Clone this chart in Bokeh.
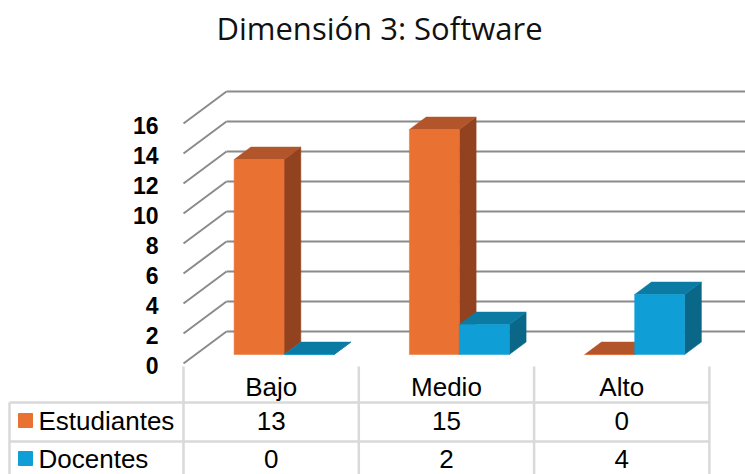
from bokeh.plotting import figure
from bokeh.models import Range1d
from bokeh.embed import file_html
from bokeh.resources import INLINE
from bokeh.core.properties import value

# ---------------- data ----------------
title_text = "Dimensión 3: Software"
categories = ["Bajo", "Medio", "Alto"]
series_names = ["Estudiantes", "Docentes"]
estudiantes = [13, 15, 0]
docentes = [0, 2, 4]
y_ticks = [0, 2, 4, 6, 8, 10, 12, 14, 16]

# ---------------- style / geometry ----------------
W, H = 745, 474
PX_X = 175.3        # px per category
PX_Y = 15.0         # px per unit value
X0_PX = 183.0       # px of front-left floor corner
Y0_PX = 363.0       # px of front baseline

DX = 43 / PX_X      # wall depth (x, data units)
DY = 32 / PX_Y      # wall depth (y, data units)
F0 = 0.28           # bar front depth fraction
FB = 0.39           # bar depth fraction
BAR_W = 0.285
BAR_C = 0.505

front_cols = ["#E97132", "#0F9ED5"]
top_cols = ["#B3552A", "#0B7BA4"]
side_cols = ["#934220", "#0A6787"]
grid_col = "#8a8a8a"
table_col = "#d9d9d9"


def px2x(px):
    return (px - X0_PX) / PX_X


def px2y(py):
    return (Y0_PX - py) / PX_Y


x_range = Range1d(px2x(0), px2x(W))
y_range = Range1d(px2y(H), px2y(0))

p = figure(width=W, height=H, x_range=x_range, y_range=y_range,
           output_backend="svg", toolbar_location=None,
           min_border_left=0, min_border_right=0, min_border_bottom=0,
           min_border_top=0)
p.axis.visible = False
p.grid.visible = False
p.outline_line_color = None
p.background_fill_color = "white"
p.border_fill_color = "white"

# title
p.text(x=[px2x(379)], y=[px2y(27)], text=[title_text], text_align="center",
       text_baseline="alphabetic", text_font=value("Open Sans"),
       text_font_size="31px", text_color="#111111")

# ---------------- 3D walls ----------------
xmax = x_range.end
p.segment(x0=[DX] * len(y_ticks), y0=[v + DY for v in y_ticks],
          x1=[xmax] * len(y_ticks), y1=[v + DY for v in y_ticks],
          line_color=grid_col, line_width=2)
p.segment(x0=[0] * len(y_ticks), y0=y_ticks,
          x1=[DX] * len(y_ticks), y1=[v + DY for v in y_ticks],
          line_color=grid_col, line_width=2)

# tick labels
p.text(x=[0] * len(y_ticks), y=y_ticks, text=[str(t) for t in y_ticks],
       x_offset=-25, y_offset=2, text_align="right", text_baseline="middle",
       text_font=value("Liberation Sans"), text_font_style="bold",
       text_font_size="23px", text_color="#000000")

# ---------------- bars ----------------
bdx, bdy = FB * DX, FB * DY
sx, sy = F0 * DX, F0 * DY
for j, vals in enumerate([estudiantes, docentes]):
    lefts, rights, tops = [], [], []
    top_xs, top_ys, side_xs, side_ys = [], [], [], []
    for i, v in enumerate(vals):
        xl = i + BAR_C - BAR_W + j * BAR_W + sx
        xr = xl + BAR_W
        b = sy
        t = v + sy
        lefts.append(xl)
        rights.append(xr)
        tops.append(t)
        top_xs.append([xl, xr, xr + bdx, xl + bdx])
        top_ys.append([t, t, t + bdy, t + bdy])
        side_xs.append([xr, xr + bdx, xr + bdx, xr])
        side_ys.append([b, b + bdy, t + bdy, t])
    p.patches(side_xs, side_ys, fill_color=side_cols[j], line_color=side_cols[j], line_width=0.5)
    p.patches(top_xs, top_ys, fill_color=top_cols[j], line_color=top_cols[j], line_width=0.5)
    p.quad(left=lefts, right=rights, bottom=[sy] * len(vals), top=tops,
           fill_color=front_cols[j], line_color=front_cols[j], line_width=0.5)

# ---------------- data table ----------------
hdr_top = px2y(366)
row1_top = px2y(402)
row2_top = px2y(441)
ybot = y_range.start
tbl_left = px2x(9)
ncat = len(categories)

p.segment(x0=[tbl_left, tbl_left], y0=[row1_top, row2_top],
          x1=[ncat, ncat], y1=[row1_top, row2_top],
          line_color=table_col, line_width=2.5)
p.segment(x0=list(range(ncat + 1)), y0=[hdr_top] * (ncat + 1),
          x1=list(range(ncat + 1)), y1=[ybot] * (ncat + 1),
          line_color=table_col, line_width=2.5)
p.segment(x0=[tbl_left], y0=[row1_top], x1=[tbl_left], y1=[ybot],
          line_color=table_col, line_width=2.5)

font_tbl = value("Liberation Sans")
hdr_y = px2y(386)
row_ys = [px2y(420), px2y(458)]
p.text(x=[i + 0.5 for i in range(ncat)], y=[hdr_y] * ncat, text=categories,
       text_align="center", text_baseline="middle", text_font=font_tbl,
       text_font_size="26px", text_color="#000000")
for j, vals in enumerate([estudiantes, docentes]):
    p.text(x=[i + 0.5 for i in range(ncat)], y=[row_ys[j]] * ncat,
           text=[str(v) for v in vals], text_align="center", text_baseline="middle",
           text_font=font_tbl, text_font_size="26px", text_color="#000000")
p.text(x=[px2x(38)] * 2, y=row_ys, text=series_names, text_align="left",
       text_baseline="middle", text_font=font_tbl, text_font_size="26px",
       text_color="#000000")
p.scatter(x=[px2x(25)] * 2, y=row_ys, marker="square", size=14,
          fill_color=front_cols, line_color=front_cols)

open("out.html", "w").write(file_html(p, INLINE))
